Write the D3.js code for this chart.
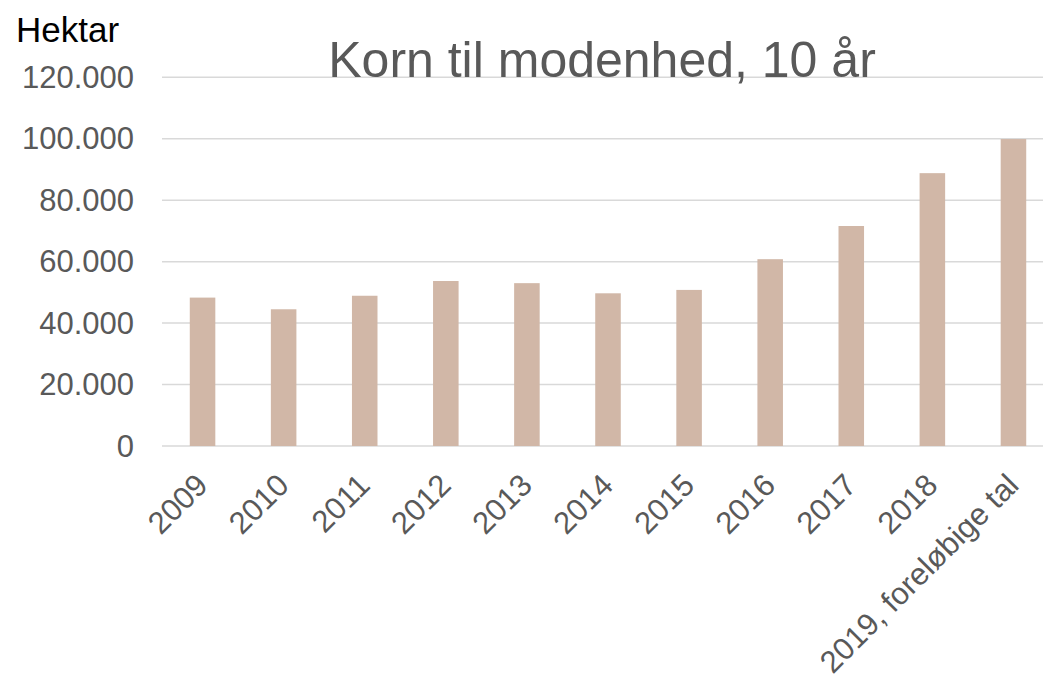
<!DOCTYPE html>
<html>
<head>
<meta charset="utf-8">
<script src="https://cdn.jsdelivr.net/npm/d3@7"></script>
<style>
  body { margin: 0; background: #fff; }
  svg { display: block; font-family: Arial, "Liberation Sans", sans-serif; }
</style>
</head>
<body>
<svg id="chart" width="1043" height="675"></svg>
<script>
// Korn til modenhed - hectares per year
var years = ["2009", "2010", "2011", "2012", "2013", "2014", "2015", "2016", "2017", "2018", "2019, foreløbige tal"];
var hektar = [48300, 44500, 48900, 53700, 53000, 49700, 50800, 60800, 71600, 88800, 99900];
var yTicks = [0, 20000, 40000, 60000, 80000, 100000, 120000];
var title = "Korn til modenhed, 10 år";
var unitLabel = "Hektar";

// plot area (window.top is reserved, so no bare "top")
var plotLeft = 162, plotRight = 1054, plotTop = 77.3, plotBottom = 446;

var svg = d3.select("#chart");

var dk = d3.formatLocale({decimal: ",", thousands: ".", grouping: [3], currency: ["", " kr."]});
var fmt = dk.format(",.0f");

var x = d3.scaleBand()
    .domain(years)
    .range([plotLeft, plotRight])
    .paddingInner(0.685)
    .paddingOuter(0.3425);

var y = d3.scaleLinear()
    .domain([0, 120000])
    .range([plotBottom, plotTop]);

// gridlines
svg.append("g")
    .selectAll("line")
    .data(yTicks)
    .join("line")
    .attr("x1", plotLeft)
    .attr("x2", plotRight)
    .attr("y1", d => y(d))
    .attr("y2", d => y(d))
    .attr("stroke", "#d9d9d9")
    .attr("stroke-width", 1.5);

// y axis labels
var yAxis = d3.axisLeft(y).tickValues(yTicks).tickFormat(fmt).tickSize(0).tickPadding(0);
svg.append("g")
    .attr("transform", "translate(134,0)")
    .call(yAxis)
    .call(g => g.select(".domain").remove())
    .selectAll("text")
    .attr("font-size", 31)
    .attr("font-family", "Arial, 'Liberation Sans', sans-serif")
    .attr("fill", "#595959")
    .attr("dy", "0.33em");

// bars
svg.append("g")
    .selectAll("rect")
    .data(years)
    .join("rect")
    .attr("x", d => x(d))
    .attr("width", x.bandwidth())
    .attr("y", (d, i) => y(hektar[i]))
    .attr("height", (d, i) => y(0) - y(hektar[i]))
    .attr("fill", "#d1b7a7");

// x labels, rotated
svg.append("g")
    .selectAll("text")
    .data(years)
    .join("text")
    .attr("transform", d => "translate(" + (x(d) + x.bandwidth() / 2 + 7) + ",487) rotate(-45)")
    .attr("text-anchor", "end")
    .attr("font-size", 31)
    .attr("fill", "#595959")
    .text(d => d);

// title
svg.append("text")
    .attr("x", 602)
    .attr("y", 77)
    .attr("text-anchor", "middle")
    .attr("font-size", 50)
    .attr("fill", "#595959")
    .text(title);

// unit label
svg.append("text")
    .attr("x", 16)
    .attr("y", 41.5)
    .attr("font-size", 35)
    .attr("fill", "#000")
    .text(unitLabel);
</script>
</body>
</html>
